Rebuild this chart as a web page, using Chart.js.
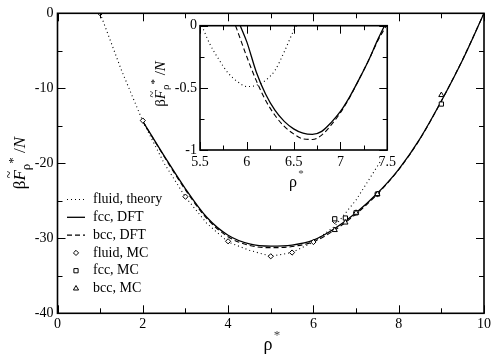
<!DOCTYPE html>
<html><head><meta charset="utf-8">
<script src="https://cdn.jsdelivr.net/npm/chart.js@4/dist/chart.umd.min.js"></script>
<style>
html,body{margin:0;padding:0;background:#fff;}
#wrap{position:relative;width:494px;height:356px;overflow:hidden;}
#wrap canvas{position:absolute;}
</style>
</head><body>
<div id="wrap">
<canvas id="main" width="494" height="356" style="left:0;top:0;width:494px;height:356px"></canvas>
<canvas id="inset" width="260" height="190" style="left:140px;top:10px;width:260px;height:190px"></canvas>
</div>
<script>
// ---------- main panel data ----------
const rhoTheory   = [1.0, 1.5, 2.0, 2.5, 3.0, 3.5, 4.0, 4.5, 5.0, 5.5, 6.0, 6.5, 7.0, 7.5, 7.6];
const fluidTheory = [0, -7.6, -14.4, -20.0, -24.5, -28.0, -30.5, -31.6, -32.4, -31.9, -30.5, -28.4, -24.9, -20.4, -19.5];

const rhoDFT = [2.0, 2.5, 3.0, 3.5, 4.0, 4.5, 5.0, 5.5, 6.0, 6.5, 7.0, 7.5, 8.0, 8.5, 9.0, 9.5, 10.0];
const fccDFT = [-14.4, -19.0, -23.4, -27.2, -29.6, -30.75, -31.05, -30.9, -30.25, -28.7, -26.6, -24.0, -20.8, -16.7, -11.7, -6.2, 0];
const bccDFT = [-14.4, -19.1, -23.55, -27.35, -29.8, -30.95, -31.25, -31.1, -30.45, -28.9, -26.75, -24.1, -20.85, -16.75, -11.7, -6.15, 0];

const rhoFluidMC = [1, 2, 3, 4, 5, 5.5, 6, 6.5, 7, 7.5];
const fluidMC    = [0, -14.3, -24.45, -30.4, -32.4, -31.9, -30.5, -27.7, -26.6, -24.1];
const rhoFccMC   = [6.5, 6.75, 7, 7.5, 9];
const fccMC      = [-27.4, -27.3, -26.6, -24.1, -12.1];
const rhoBccMC   = [6.5, 6.75, 7, 7.5, 9];
const bccMC      = [-28.9, -27.9, -26.6, -24.1, -10.9];

const xTicksMain = [0, 2, 4, 6, 8, 10];
const xMinorMain = [1, 3, 5, 7, 9];
const yTicksMain = [0, -10, -20, -30, -40];
const yMinorMain = [-5, -15, -25, -35];

// ---------- inset data ----------
const insetRhoFluid = [5.52, 5.6, 5.7, 5.8, 5.9, 6.0, 6.1, 6.2, 6.3, 6.4, 6.5, 6.53];
const insetFluid    = [0, -0.14, -0.27, -0.38, -0.45, -0.49, -0.48, -0.44, -0.36, -0.21, -0.04, 0];
const insetRhoFcc   = [5.93, 6.0, 6.1, 6.2, 6.3, 6.4, 6.5, 6.6, 6.7, 6.8, 6.9, 7.0, 7.1, 7.2, 7.3, 7.4, 7.47];
const insetFcc      = [0, -0.13, -0.37, -0.55, -0.68, -0.77, -0.83, -0.865, -0.875, -0.85, -0.78, -0.69, -0.57, -0.43, -0.28, -0.11, 0];
const insetRhoBcc   = [5.88, 6.0, 6.1, 6.2, 6.3, 6.4, 6.5, 6.6, 6.7, 6.8, 6.9, 7.0, 7.1, 7.2, 7.3, 7.4, 7.49];
const insetBcc      = [0, -0.25, -0.44, -0.60, -0.72, -0.81, -0.87, -0.91, -0.915, -0.88, -0.80, -0.70, -0.575, -0.43, -0.28, -0.12, 0];

const xTicksInset = [5.5, 6, 6.5, 7, 7.5];
const xMinorInset = [5.75, 6.25, 6.75, 7.25];
const yTicksInset = [0, -0.5, -1];
const yMinorInset = [-0.25, -0.75];

const legendLabels = ['fluid, theory', 'fcc, DFT', 'bcc, DFT', 'fluid, MC', 'fcc, MC', 'bcc, MC'];

const FONT = '"Liberation Serif", "Times New Roman", serif';
Chart.defaults.font.family = FONT;
Chart.defaults.color = '#000';

const pts = (xs, ys) => xs.map((x, i) => ({x: x, y: ys[i]}));
const DOT = [1, 3];
const DASH = [5, 3];

function frameTicksPlugin(xMajor, xMinor, yMajor, yMinor, majLen, minLen, fillWhite) {
  return {
    id: 'frameTicks',
    beforeDatasetsDraw(chart) {
      if (!fillWhite) return;
      const a = chart.chartArea, ctx = chart.ctx;
      ctx.save(); ctx.fillStyle = '#fff';
      ctx.fillRect(a.left, a.top, a.right - a.left, a.bottom - a.top);
      ctx.restore();
    },
    afterDatasetsDraw(chart) {
      const a = chart.chartArea, ctx = chart.ctx, sx = chart.scales.x, sy = chart.scales.y;
      ctx.save();
      ctx.strokeStyle = '#000';
      ctx.lineWidth = 1;
      const vt = (vals, len) => vals.forEach(v => {
        const px = Math.round(sx.getPixelForValue(v)) + 0.5;
        ctx.beginPath();
        ctx.moveTo(px, a.bottom); ctx.lineTo(px, a.bottom - len);
        ctx.moveTo(px, a.top); ctx.lineTo(px, a.top + len);
        ctx.stroke();
      });
      const ht = (vals, len) => vals.forEach(v => {
        const py = Math.round(sy.getPixelForValue(v)) + 0.5;
        ctx.beginPath();
        ctx.moveTo(a.left, py); ctx.lineTo(a.left + len, py);
        ctx.moveTo(a.right, py); ctx.lineTo(a.right - len, py);
        ctx.stroke();
      });
      vt(xMajor, majLen); vt(xMinor, minLen); ht(yMajor, majLen); ht(yMinor, minLen);
      ctx.lineWidth = 1.6;
      ctx.strokeRect(a.left, a.top, a.right - a.left, a.bottom - a.top);
      ctx.restore();
    }
  };
}

// rotated y-axis title: beta F~ rho* / N
function drawYTitle(ctx, bx, cy, s) {
  const reg = s + 'px ' + FONT, it = 'italic ' + s + 'px ' + FONT;
  const sm = Math.round(s * 0.75) + 'px ' + FONT;
  const parts = [
    {t: '\u03B2', f: reg, dy: 0},
    {t: 'F', f: it, dy: 0, tilde: true},
    {t: '\u03C1', f: sm, dy: 0.28 * s},
    {t: '*', f: sm, dy: -0.45 * s},
    {t: ' /', f: reg, dy: 0},
    {t: 'N', f: it, dy: 0}
  ];
  ctx.save();
  let total = 0;
  parts.forEach(p => { ctx.font = p.f; p.w = ctx.measureText(p.t).width; total += p.w; });
  ctx.translate(bx, cy);
  ctx.rotate(-Math.PI / 2);
  ctx.fillStyle = '#000';
  ctx.textBaseline = 'alphabetic';
  let x = -total / 2;
  parts.forEach(p => {
    ctx.font = p.f;
    ctx.fillText(p.t, x, p.dy);
    if (p.tilde) {
      ctx.font = Math.round(s * 0.8) + 'px ' + FONT;
      ctx.fillText('~', x + p.w * 0.2, -0.62 * s);
    }
    x += p.w;
  });
  ctx.restore();
}

function drawRhoStar(ctx, cx, by, s) {
  ctx.save();
  ctx.fillStyle = '#000';
  ctx.textBaseline = 'alphabetic';
  ctx.textAlign = 'center';
  ctx.font = s + 'px ' + FONT;
  ctx.fillText('\u03C1', cx, by);
  ctx.font = Math.round(s * 0.7) + 'px ' + FONT;
  ctx.fillStyle = '#444';
  ctx.fillText('*', cx + 0.5 * s, by - 0.62 * s);
  ctx.restore();
}

const fixedTicks = (arr) => (scale) => { scale.ticks = arr.map(v => ({value: v})); };
const tickFont = {family: FONT, size: 14};

// ---------- main chart ----------
const mainCfg = {
  type: 'scatter',
  data: {
    datasets: [
      {label: legendLabels[0], data: pts(rhoTheory, fluidTheory), showLine: true, borderColor: '#000', borderWidth: 1.1, borderDash: DOT, pointRadius: 0, fill: false, order: 5},
      {label: legendLabels[1], data: pts(rhoDFT, fccDFT), showLine: true, borderColor: '#000', borderWidth: 1.3, pointRadius: 0, fill: false, cubicInterpolationMode: 'monotone', order: 4},
      {label: legendLabels[2], data: pts(rhoDFT, bccDFT), showLine: true, borderColor: '#000', borderWidth: 1.1, borderDash: DASH, pointRadius: 0, fill: false, cubicInterpolationMode: 'monotone', order: 3},
      {label: legendLabels[3], data: pts(rhoFluidMC, fluidMC), showLine: false, pointStyle: 'rectRot', pointRadius: 2.6, borderColor: '#000', backgroundColor: '#fff', pointBorderWidth: 1, order: 2},
      {label: legendLabels[4], data: pts(rhoFccMC, fccMC), showLine: false, pointStyle: 'rect', pointRadius: 3, borderColor: '#000', backgroundColor: '#fff', pointBorderWidth: 1, order: 1},
      {label: legendLabels[5], data: pts(rhoBccMC, bccMC), showLine: false, pointStyle: 'triangle', pointRadius: 3, borderColor: '#000', backgroundColor: '#fff', pointBorderWidth: 1, order: 0}
    ]
  },
  options: {
    responsive: false, animation: false, devicePixelRatio: 1,
    layout: {padding: {left: 0, right: 7.5, top: 13.3, bottom: 0}},
    plugins: {legend: {display: false}, tooltip: {enabled: false}},
    elements: {line: {tension: 0}},
    scales: {
      x: {type: 'linear', min: 0, max: 10, afterBuildTicks: fixedTicks(xTicksMain),
          afterFit: s => { s.height = 42.7; },
          grid: {display: false, drawTicks: false}, border: {display: false},
          ticks: {font: tickFont, color: '#000', padding: 3, maxRotation: 0, callback: v => String(v)}},
      y: {type: 'linear', min: -40, max: 0, afterBuildTicks: fixedTicks(yTicksMain),
          afterFit: s => { s.width = 57.5; },
          grid: {display: false, drawTicks: false}, border: {display: false},
          ticks: {font: tickFont, color: '#000', padding: 4, callback: v => String(v)}}
    }
  },
  plugins: [
    frameTicksPlugin(xTicksMain, xMinorMain, yTicksMain, yMinorMain, 8, 5, false),
    {
      id: 'titlesLegend',
      afterDraw(chart) {
        const ctx = chart.ctx;
        drawYTitle(ctx, 25, 163, 17);
        drawRhoStar(ctx, 268, 350, 18);
        // legend
        const ds = chart.data.datasets;
        const x0 = 67, x1 = 85, xm = 76, xt = 93, y0 = 199.5, dy = 17.8;
        ctx.save();
        ds.forEach((d, i) => {
          const y = y0 + i * dy;
          ctx.strokeStyle = '#000';
          if (d.showLine) {
            ctx.lineWidth = d.borderWidth;
            ctx.setLineDash(d.borderDash || []);
            ctx.beginPath(); ctx.moveTo(x0, y); ctx.lineTo(x1, y); ctx.stroke();
            ctx.setLineDash([]);
          } else {
            ctx.save(); ctx.fillStyle = '#fff'; ctx.strokeStyle = '#000'; ctx.lineWidth = 1;
            Chart.helpers.drawPoint(ctx, {pointStyle: d.pointStyle, radius: d.pointRadius, borderWidth: 1, rotation: 0}, xm, y);
            ctx.restore();
          }
          ctx.fillStyle = '#000';
          ctx.font = '14px ' + FONT;
          ctx.textBaseline = 'middle';
          ctx.fillText(d.label, xt, y);
        });
        ctx.restore();
      }
    }
  ]
};
const mainChart = new Chart(document.getElementById('main'), mainCfg);

// ---------- inset chart ----------
const insetCfg = {
  type: 'scatter',
  data: {
    datasets: [
      {data: pts(insetRhoFluid, insetFluid), showLine: true, borderColor: '#000', borderWidth: 1.1, borderDash: DOT, pointRadius: 0, cubicInterpolationMode: 'monotone'},
      {data: pts(insetRhoFcc, insetFcc), showLine: true, borderColor: '#000', borderWidth: 1.3, pointRadius: 0, cubicInterpolationMode: 'monotone'},
      {data: pts(insetRhoBcc, insetBcc), showLine: true, borderColor: '#000', borderWidth: 1.1, borderDash: DASH, pointRadius: 0, cubicInterpolationMode: 'monotone'}
    ]
  },
  options: {
    responsive: false, animation: false, devicePixelRatio: 1,
    layout: {padding: {left: 0, right: 8.3, top: 15.7, bottom: 0}},
    plugins: {legend: {display: false}, tooltip: {enabled: false}},
    scales: {
      x: {type: 'linear', min: 5.5, max: 7.5, afterBuildTicks: fixedTicks(xTicksInset),
          afterFit: s => { s.height = 50; },
          grid: {display: false, drawTicks: false}, border: {display: false},
          ticks: {font: tickFont, color: '#000', padding: 4, maxRotation: 0, callback: v => String(v)}},
      y: {type: 'linear', min: -1, max: 0, afterBuildTicks: fixedTicks(yTicksInset),
          afterFit: s => { s.width = 60; },
          grid: {display: false, drawTicks: false}, border: {display: false},
          ticks: {font: tickFont, color: '#000', padding: 3, callback: v => String(v)}}
    }
  },
  plugins: [
    frameTicksPlugin(xTicksInset, xMinorInset, yTicksInset, yMinorInset, 8, 4.5, true),
    {
      id: 'insetTitles',
      afterDraw(chart) {
        const ctx = chart.ctx;
        drawYTitle(ctx, 165 - 140, 84 - 10, 15);
        drawRhoStar(ctx, 293 - 140, 187 - 10, 16);
      }
    }
  ]
};
const insetChart = new Chart(document.getElementById('inset'), insetCfg);
</script>
</body></html>
